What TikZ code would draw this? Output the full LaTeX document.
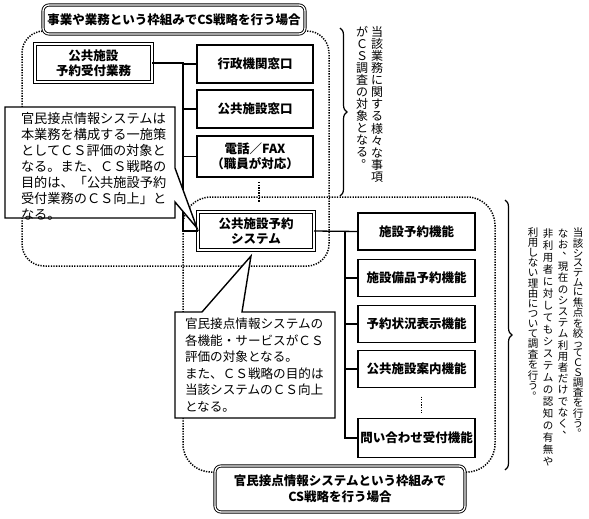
\documentclass[tikz,border=0pt]{standalone}
\usepackage{fontspec}
\setmainfont{Noto Sans CJK JP}
\usetikzlibrary{decorations.pathreplacing,calc}
\makeatletter
\newdimen\vpitch \vpitch=12pt
\def\vcol@end{\vcol@end}
\newcommand\vcol[2][12pt]{\vpitch=#1\relax\vbox{\offinterlineskip\vcol@#2\vcol@end}}
\def\vcol@#1{\ifx#1\vcol@end\else\vcol@ch{#1}\expandafter\vcol@\fi}
\def\vcol@ch#1{\hbox to 1em{\vrule height .82\vpitch depth .18\vpitch width 0pt\ifx#1、\vpunct{#1}\else\ifx#1。\vpunct{#1}\else\hss#1\hss\fi\fi}}
\def\vpunct#1{\hskip .45em\rlap{\raisebox{.5em}[0pt][0pt]{#1}}\hss}
\makeatother
\begin{document}
\begin{tikzpicture}[x=1pt,y=-1pt,
  every node/.style={inner sep=0pt, outer sep=0pt},
  box/.style={draw, line width=1.3pt, fill=white, align=center,
    minimum width=116pt, minimum height=38pt,
    font=\fontsize{12.5}{15}\selectfont\bfseries},
  dbox/.style={box, double, double distance=1.3pt, line width=0.9pt},
  titlebox/.style={draw, double, double distance=1.3pt, line width=0.9pt,
    rounded corners=6pt, fill=white, align=center,
    font=\fontsize{12.5}{16}\selectfont\bfseries},
  region/.style={line width=1.5pt, dash pattern=on 1.3pt off 1.3pt},
  vdots/.style={line width=1.5pt, dash pattern=on 1.3pt off 1.3pt},
  conn/.style={line width=1.3pt},
  callout/.style={draw, line width=1.4pt, fill=white, line join=miter},
  ctext/.style={align=left, anchor=north west},
  vtext/.style={anchor=north, font=\fontsize{12}{12}\selectfont},
  vtextb/.style={anchor=north, font=\fontsize{10.5}{10.5}\selectfont},
  brace/.style={line width=1.2pt, decorate, decoration={brace, amplitude=7pt}}
]
\useasboundingbox (0,0) rectangle (589,519);

% dotted scopes
\draw[region, rounded corners=22pt] (43,31) -| (22,266) -| (329,31) -- (305,31);
\draw[region, rounded corners=28pt] (215,472) -| (183,197) -| (495,472) -- (465,472);

% left tree
\node[dbox, minimum width=117pt] (pa) at (93.5,63) {公共施設\\予約受付業務};
\node[box] (gy) at (255,64) {行政機関窓口};
\node[box] (ks) at (255,109) {公共施設窓口};
\node[box, minimum height=41pt] (tel) at (255,156.5) {電話／FAX\\（職員が対応）};
\node[dbox] (sys) at (256,231) {公共施設予約\\システム};
\coordinate (j1) at (183,0);
\draw[conn] (pa.east) -- (pa.east -| j1) |- (sys.west);
\draw[conn] (gy.west) -- (gy.west -| j1);
\draw[conn] (ks.west) -- (ks.west -| j1);
\draw[conn] (tel.west) -- (tel.west -| j1);
\draw[vdots] ($(tel.south)+(4,5)$) -- ++(0,20);

% right tree
\node[box, minimum width=117pt, minimum height=37pt] (f1) at (416.5,231.5) {施設予約機能};
\node[box, minimum width=117pt, minimum height=37pt] (f2) at (416.5,278) {施設備品予約機能};
\node[box, minimum width=117pt, minimum height=37pt] (f3) at (416.5,324) {予約状況表示機能};
\node[box, minimum width=117pt, minimum height=37pt] (f4) at (416.5,369) {公共施設案内機能};
\node[box, minimum width=117pt, minimum height=39pt] (f5) at (416.5,438) {問い合わせ受付機能};
\coordinate (j2) at (345,0);
\draw[conn] (sys.east) -- (f1.west);
\draw[conn] (sys.east -| j2) |- (f5.west);
\draw[conn] (f2.west) -- (f2.west -| j2);
\draw[conn] (f3.west) -- (f3.west -| j2);
\draw[conn] (f4.west) -- (f4.west -| j2);
\draw[vdots] ($(f4.south)+(5,9)$) -- ++(0,16);

% title boxes
\node[titlebox, minimum width=262pt, minimum height=29pt] (t1) at (174,19.5)
  {事業や業務という枠組みでCS戦略を行う場合};
\node[titlebox, minimum width=250pt, minimum height=46pt] (t2) at (340,489)
  {官民接点情報システムという枠組みで\\CS戦略を行う場合};

% callout 1
\draw[callout] (5,107) -- (175,107) -- (175,168) -- (197,228) -- (175,202)
  -- (175,218) -- (5,218) -- cycle;
\node[ctext, font=\fontsize{13.2}{16}\selectfont] (c1) at (21,112)
  {官民接点情報システムは\\本業務を構成する一施策\\としてＣＳ評価の対象と\\なる。また、ＣＳ戦略の\\目的は、「公共施設予約\\受付業務のＣＳ向上」と\\なる。};

% callout 2
\draw[callout] (175,312) -- (202,312) -- (251,256) -- (242,312) -- (335,312)
  -- (335,418) -- (175,418) -- cycle;
\node[ctext, font=\fontsize{12.6}{16.5}\selectfont] (c2) at (185,318)
  {官民接点情報システムの\\各機能・サービスがＣＳ\\評価の対象となる。\\また、ＣＳ戦略の目的は\\当該システムのＣＳ向上\\となる。};

% braces
\draw[brace] (340,28) -- (340,196);
\draw[brace] (505,200) -- (505,470);

% vertical notes
\node[vtext] (v1a) at (377,26) {\vcol{当該業務に関する様々な事項}};
\node[vtext] (v1b) at (362,26) {\vcol{がＣＳ調査の対象となる。}};
\node[vtextb] (v2a) at (578,228) {\vcol[9.6pt]{当該システムに焦点を絞ってＣＳ調査を行う。}};
\node[vtextb] (v2b) at (563,228) {\vcol[11.2pt]{なお、現在のシステム利用者だけでなく、}};
\node[vtextb] (v2c) at (548,228) {\vcol[12pt]{非利用者に対してもシステムの認知の有無や}};
\node[vtextb] (v2d) at (533,228) {\vcol[10pt]{利用しない理由について調査を行う。}};
\end{tikzpicture}
\end{document}
